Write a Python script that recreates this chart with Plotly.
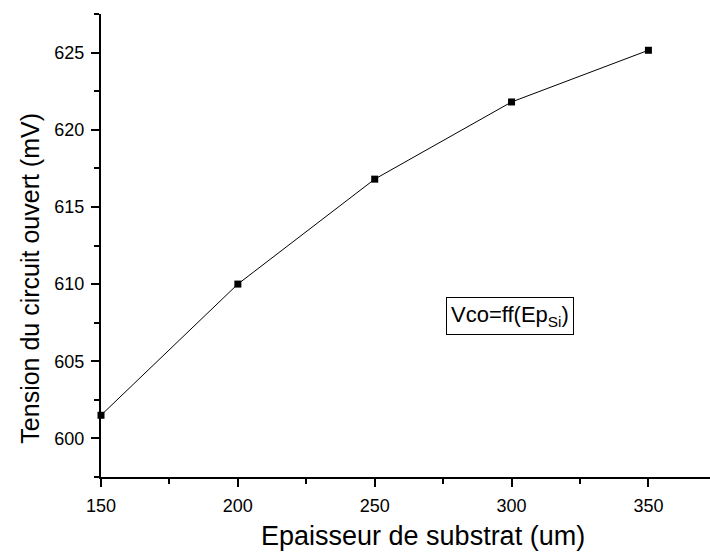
import plotly.graph_objects as go

epaisseur = [150, 200, 250, 300, 350]
vco = [601.5, 610.0, 616.8, 621.8, 625.15]
x_ticks = [150, 200, 250, 300, 350]
y_ticks = [600, 605, 610, 615, 620, 625]

FONT = "Liberation Sans, Arial, sans-serif"

fig = go.Figure()
fig.add_trace(go.Scatter(
    x=epaisseur, y=vco, mode="lines+markers",
    line=dict(color="black", width=1),
    marker=dict(symbol="square", size=7, color="black"),
    cliponaxis=False, showlegend=False,
))

fig.add_annotation(
    x=299.5, y=607.95, xref="x", yref="y",
    text="Vco=ff(Ep<sub>Si</sub>)", showarrow=False,
    font=dict(family=FONT, size=22, color="black"),
    bordercolor="black", borderwidth=1, borderpad=4, bgcolor="white",
)

# axis titles placed as paper annotations to match the reference offsets
fig.add_annotation(
    x=0.528, y=-0.128, xref="paper", yref="paper",
    text="Epaisseur de substrat (um)", showarrow=False,
    font=dict(family=FONT, size=27, color="black"),
    xanchor="center", yanchor="middle",
)
fig.add_annotation(
    x=-0.117, y=0.43, xref="paper", yref="paper",
    text="Tension du circuit ouvert (mV)", showarrow=False, textangle=-90,
    font=dict(family=FONT, size=25, color="black"),
    xanchor="center", yanchor="middle",
)

axis_common = dict(
    showgrid=False, zeroline=False, showline=True, linecolor="black", linewidth=2,
    ticks="outside", ticklen=8, tickwidth=2, tickcolor="black",
    tickfont=dict(family=FONT, size=18, color="black"),
    ticklabelstandoff=3,
)

fig.update_xaxes(
    range=[150, 372.5], tickvals=x_ticks,
    minor=dict(ticks="outside", ticklen=5, tickwidth=1.5, tickcolor="black", dtick=25, tick0=150),
    **axis_common,
)
fig.update_yaxes(
    range=[597.5, 627.5], tickvals=y_ticks,
    minor=dict(ticks="outside", ticklen=5, tickwidth=1.5, tickcolor="black", dtick=2.5, tick0=597.5),
    **axis_common,
)

fig.update_layout(
    width=710, height=554,
    margin=dict(l=101, r=0, t=14, b=77),
    paper_bgcolor="white", plot_bgcolor="white",
)

fig.write_html("out.html")
